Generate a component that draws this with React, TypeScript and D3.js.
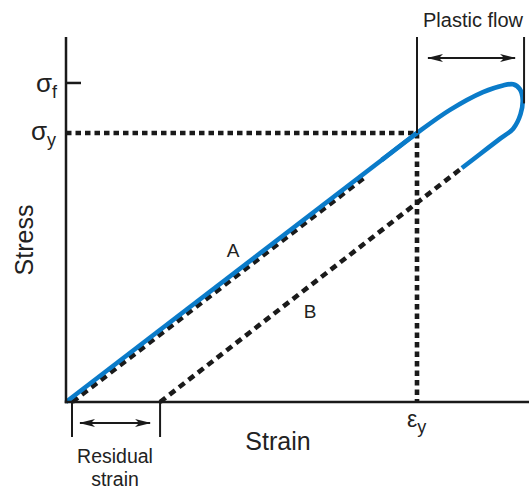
import * as d3 from "d3";

const W = 529;
const H = 489;

// strain / stress in units of yield point (εy = 1, σy = 1)
const elastic: [number, number][] = [
  [0, 0],
  [1, 1],
];
const plastic: [number, number][] = [
  [0.9, 0.9],
  [1, 1],
  [1.094, 1.086],
  [1.188, 1.152],
  [1.245, 1.177],
  [1.274, 1.181],
  [1.293, 1.163],
  [1.301, 1.125],
  [1.295, 1.07],
  [1.274, 1.016],
  [1.236, 0.978],
  [1.179, 0.921],
  [1.128, 0.87],
];
const unloadB: [number, number][] = [
  [0.268, 0],
  [1.128, 0.87],
];
const lineA: [number, number][] = [
  [0.018, 0],
  [0.85, 0.834],
];
const sigmaF = 1.186;
const flowEnd = 1.305;
const flowEndStress = 1.11;
const residual = 0.268;

const x = d3.scaleLinear().domain([0, 1]).range([66, 417]);
const y = d3.scaleLinear().domain([0, 1]).range([402, 133]);

const line = d3
  .line<[number, number]>()
  .x((d) => x(d[0]))
  .y((d) => y(d[1]));
const smooth = d3
  .line<[number, number]>()
  .x((d) => x(d[0]))
  .y((d) => y(d[1]))
  .curve(d3.curveCatmullRom.alpha(0.5));

const BLUE = "#0a7bc9";
const INK = "#1a1a1a";
const FONT = "'Liberation Sans', Arial, Helvetica, sans-serif";

export default function App() {
  const yTop = 37;
  const xRight = W;
  return (
    <svg
      width={W}
      height={H}
      style={{ position: "absolute", left: 0, top: 0, background: "#fff" }}
      fontFamily={FONT}
    >
      <defs>
        <marker
          id="arr"
          viewBox="0 0 16 8"
          refX="15"
          refY="4"
          markerWidth="16"
          markerHeight="8"
          markerUnits="userSpaceOnUse"
          orient="auto-start-reverse"
        >
          <path d="M0,0 L16,4 L0,8 L4,4 Z" fill={INK} />
        </marker>
      </defs>

      {/* dashed guides */}
      <g stroke={INK} strokeWidth={4.6} fill="none">
        <line x1={x(0)} x2={x(1)} y1={y(1)} y2={y(1)} strokeDasharray="5.5 4" />
        <line x1={x(1)} x2={x(1)} y1={y(1)} y2={y(0)} strokeDasharray="5.5 4" />
        <path d={line(lineA) ?? ""} strokeDasharray="7 5" />
        <path d={line(unloadB) ?? ""} strokeDasharray="7 5" />
      </g>

      {/* stress-strain curve */}
      <g stroke={BLUE} strokeWidth={4.6} fill="none">
        <path d={line(elastic) ?? ""} />
        <path d={smooth(plastic) ?? ""} />
      </g>

      {/* axes */}
      <g stroke={INK} strokeWidth={2.5}>
        <line x1={x(0)} x2={x(0)} y1={yTop} y2={y(0) + 1.25} />
        <line x1={x(0) - 1.25} x2={xRight} y1={y(0)} y2={y(0)} />
        <line x1={x(0)} x2={x(0) + 15} y1={y(sigmaF)} y2={y(sigmaF)} />
      </g>

      {/* plastic flow bracket */}
      <g stroke={INK} strokeWidth={2}>
        <line x1={x(1)} x2={x(1)} y1={yTop} y2={y(1)} />
        <line x1={x(flowEnd)} x2={x(flowEnd)} y1={yTop} y2={y(flowEndStress)} />
        <line
          x1={x(1) + 11}
          x2={x(flowEnd) - 9}
          y1={58}
          y2={58}
          markerStart="url(#arr)"
          markerEnd="url(#arr)"
        />
      </g>

      {/* residual strain bracket */}
      <g stroke={INK} strokeWidth={2}>
        <line x1={x(0) + 6} x2={x(0) + 6} y1={y(0)} y2={437} />
        <line x1={x(residual)} x2={x(residual)} y1={y(0)} y2={437} />
        <line
          x1={x(0) + 14}
          x2={x(residual) - 10}
          y1={423}
          y2={423}
          markerStart="url(#arr)"
          markerEnd="url(#arr)"
        />
      </g>

      <g fill="#222">
        <text x={473} y={27} fontSize={20} textAnchor="middle">
          Plastic flow
        </text>
        <text x={115} y={463} fontSize={19.5} textAnchor="middle">
          Residual
        </text>
        <text x={115} y={486} fontSize={19.5} textAnchor="middle">
          strain
        </text>
        <text x={278} y={450} fontSize={25} textAnchor="middle">
          Strain
        </text>
        <text
          transform="translate(33,240) rotate(-90)"
          fontSize={25}
          textAnchor="middle"
        >
          Stress
        </text>
        <text x={233} y={257} fontSize={19} textAnchor="middle">
          A
        </text>
        <text x={310} y={318} fontSize={19} textAnchor="middle">
          B
        </text>
        <text x={36} y={92} fontSize={26}>
          σ<tspan fontSize={18} dy={6}>f</tspan>
        </text>
        <text x={31} y={140} fontSize={26}>
          σ<tspan fontSize={18} dy={6}>y</tspan>
        </text>
        <text x={407} y={427} fontSize={23}>
          ε<tspan fontSize={18} dy={6}>y</tspan>
        </text>
      </g>
    </svg>
  );
}
